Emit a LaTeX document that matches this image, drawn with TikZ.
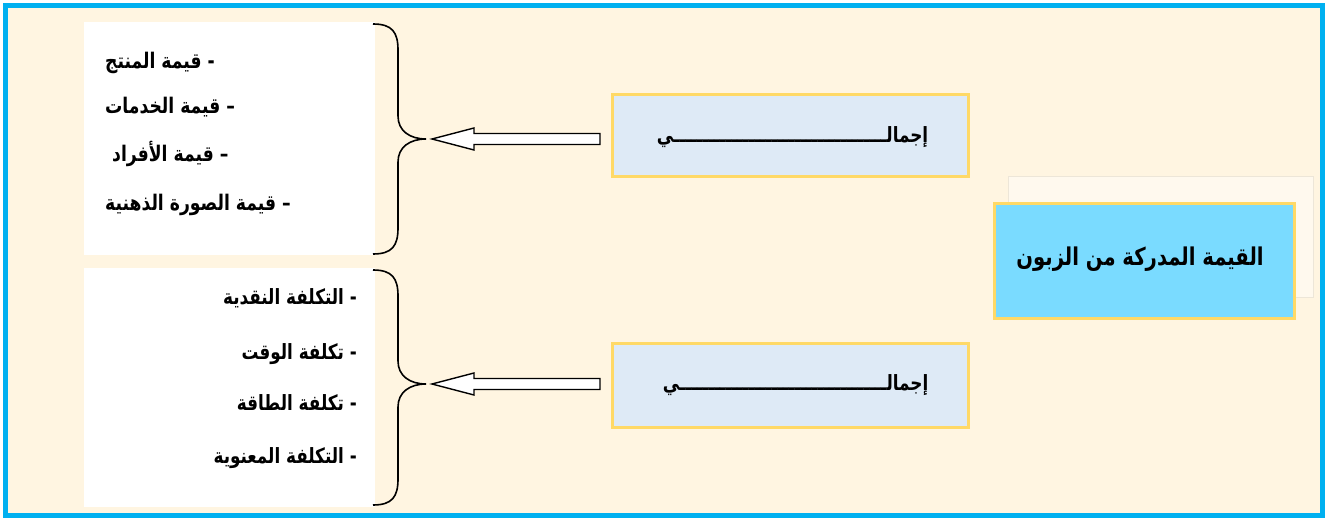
\documentclass[tikz,border=0pt]{standalone}
\usepackage{fontspec}
\usetikzlibrary{calc}
\TeXXeTstate=1
\newfontfamily\arabicfont[Script=Arabic, FakeStretch=0.8]{DejaVu Sans}
\definecolor{framecyan}{HTML}{00B0F0}
\definecolor{cream}{HTML}{FFF5E1}
\definecolor{paleblue}{HTML}{DEEAF6}
\definecolor{goldline}{HTML}{FFD966}
\definecolor{skyfill}{HTML}{7ADBFF}
\definecolor{faintfill}{HTML}{FFF9EE}
\definecolor{faintline}{HTML}{EDE6D8}
\tikzset{
  whitebox/.style={fill=white, draw=none, inner sep=0pt},
  bluebox/.style={fill=paleblue, draw=goldline, line width=3pt, inner sep=0pt},
  mainbox/.style={fill=skyfill, draw=goldline, line width=3.5pt, inner sep=0pt},
  bracestyle/.style={draw=black, line width=1.6pt},
  hollowarrow/.style={draw=black, fill=white, line width=1.4pt, line join=miter},
  listtxt/.style={inner sep=0pt, font=\arabicfont\bfseries\fontsize{21.5}{24}\selectfont},
  costtxt/.style={inner sep=0pt, font=\arabicfont\bfseries\fontsize{21}{24}\selectfont},
  boxtxt/.style={inner sep=0pt, font=\arabicfont\bfseries\fontsize{21}{24}\selectfont},
  maintxt/.style={inner sep=0pt, font=\arabicfont\bfseries\fontsize{24.5}{28}\selectfont}
}
\begin{document}
\begin{tikzpicture}[x=1pt,y=-1pt]
\useasboundingbox (0,0) rectangle (1325,518);
\fill[white] (0,0) rectangle (1325,518);
\draw[framecyan, fill=cream, line width=4.5pt] (5.5,5.5) rectangle (1322.5,515.5);
% white list panels
\node[whitebox, minimum width=291pt, minimum height=233pt] (w1) at (229.5,138.5) {};
\node[whitebox, minimum width=291pt, minimum height=239pt] (w2) at (229.5,387.5) {};
% faint panel behind main box
\draw[fill=faintfill, draw=faintline, line width=0.8pt] (1008,176) rectangle (1313,297);
% boxes
\node[bluebox, minimum width=356pt, minimum height=82pt] (b1) at (790.5,135.5) {};
\node[bluebox, minimum width=356pt, minimum height=84pt] (b2) at (790.5,385.5) {};
\node[mainbox, minimum width=300pt, minimum height=115pt] (m) at (1144.5,261) {};
\node[boxtxt] (b1t) at (792.5,137) {\beginR إجمالـــــــــــــــــــــــــــــــــــــي\endR};
\node[boxtxt] (b2t) at (795.5,385) {\beginR إجمالــــــــــــــــــــــــــــــــــــي\endR};
\node[maintxt] (mt) at (1140,259) {\beginR القيمة المدركة من الزبون\endR};
% list texts
\node[listtxt, anchor=base west] (l1) at (105,69) {\beginR - قيمة المنتج\endR};
\node[listtxt, anchor=base west] (l2) at (105,114) {\beginR – قيمة الخدمات\endR};
\node[listtxt, anchor=base west] (l3) at (112,162) {\beginR – قيمة الأفراد\endR};
\node[listtxt, anchor=base west] (l4) at (105,211) {\beginR – قيمة الصورة الذهنية\endR};
\node[costtxt, anchor=base east] (c1) at (357,305) {\beginR - التكلفة النقدية\endR};
\node[costtxt, anchor=base east] (c2) at (357,360) {\beginR - تكلفة الوقت\endR};
\node[costtxt, anchor=base east] (c3) at (357,410) {\beginR - تكلفة الطاقة\endR};
\node[costtxt, anchor=base east] (c4) at (357,463) {\beginR - التكلفة المعنوية\endR};
% braces
\coordinate (k1) at (426,139);
\coordinate (k2) at (426,384);
\draw[bracestyle] (373,24) .. controls (392,24) and (398,32) .. (398,50) -- (398,116)
  .. controls (398,131) and (410,139) .. (k1)
  .. controls (410,139) and (398,147) .. (398,162) -- (398,228)
  .. controls (398,246) and (392,254) .. (373,254);
\draw[bracestyle] (373,270) .. controls (392,270) and (398,278) .. (398,296) -- (398,361)
  .. controls (398,376) and (410,384) .. (k2)
  .. controls (410,384) and (398,392) .. (398,407) -- (398,479)
  .. controls (398,497) and (392,505) .. (373,505);
% hollow block arrows from boxes to braces
\coordinate (a1e) at ($(b1.west |- k1)+(-11,0)$);
\coordinate (a1t) at ($(k1)+(6,0)$);
\draw[hollowarrow] ($(a1e)+(0,-5.5)$) -- ($(a1t)+(42,-5.5)$) -- ($(a1t)+(42,-11)$) -- (a1t)
  -- ($(a1t)+(42,11)$) -- ($(a1t)+(42,5.5)$) -- ($(a1e)+(0,5.5)$) -- cycle;
\coordinate (a2e) at ($(b2.west |- k2)+(-11,0)$);
\coordinate (a2t) at ($(k2)+(6,0)$);
\draw[hollowarrow] ($(a2e)+(0,-5.5)$) -- ($(a2t)+(42,-5.5)$) -- ($(a2t)+(42,-11)$) -- (a2t)
  -- ($(a2t)+(42,11)$) -- ($(a2t)+(42,5.5)$) -- ($(a2e)+(0,5.5)$) -- cycle;
\end{tikzpicture}
\end{document}
